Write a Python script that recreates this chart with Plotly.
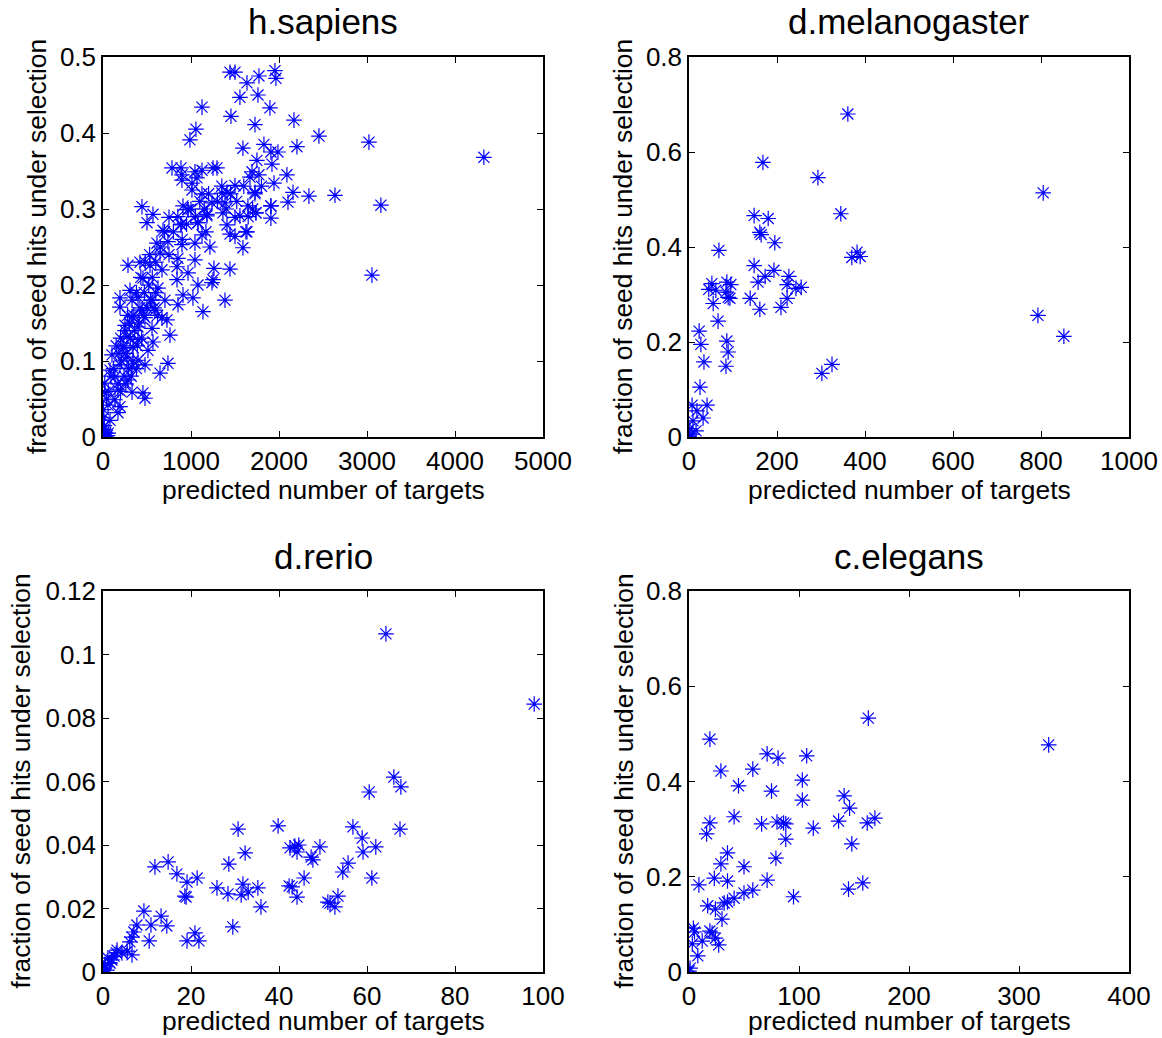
import plotly.graph_objects as go

# ---------------- data ----------------
hs_x = [1443,1500,1772,1954,1965,1636,1556,1761,1897,1125,1454,1727,2170,2454,1056,988,1590,1829,1908,1988,
        2204,1749,1920,784,886,1045,1125,1250,1295,897,1068,1693,1772,1670,2090,897,1011,1943,1011,1500,
        1727,1727,1125,1352,1409,2159,2340,2636,2102,1238,1386,443,909,1647,1908,1738,568,750,966,1181,
        1556,500,886,1079,1363,1908,682,1170,1443,1500,1624,3022,4328,3158,3056,
        966,886,1079,1181,1409,1500,1738,1908,1636,1590,613,738,897,1045,1215,1125,648,852,1045,284,
        420,534,670,841,966,1261,1443,454,841,1250,1079,307,625,1238,909,1022,193,1386,398,557,
        704,852,193,1136,443,591,330,477,670,250,398,557,727,761,273,398,568,227,341,511,
        102,273,398,193,330,477,738,648,80,136,284,20,23,170,330,454,477,136,57,193,
        5,170,80,10,
        150,200,250,300,350,420,470,520,560,600,380,330,280,230,180,120,90,60,40,210,
        260,310,360,410,460,500,540,580,620,440,390,340,290,240,170,200,260,320,380,430,
        480,530,600,650,700,750,800,850,900,950,1000,1050,1100,1150,1200,1300,1350,1400,1450,1520,
        1600,1650,1700,1800,0,10,20,30,40,50,5,15,60]
hs_y = [0.480,0.480,0.475,0.482,0.472,0.466,0.447,0.450,0.433,0.434,0.422,0.411,0.417,0.396,0.405,0.391,0.380,0.385,0.375,0.375,
        0.382,0.364,0.359,0.354,0.354,0.349,0.351,0.354,0.354,0.345,0.341,0.349,0.345,0.342,0.345,0.338,0.334,0.334,0.325,0.331,
        0.322,0.320,0.320,0.321,0.322,0.322,0.317,0.318,0.309,0.308,0.308,0.303,0.304,0.304,0.304,0.295,0.293,0.289,0.299,0.291,
        0.291,0.282,0.280,0.282,0.295,0.288,0.272,0.270,0.267,0.264,0.270,0.388,0.368,0.305,0.213,
        0.299,0.279,0.282,0.293,0.279,0.289,0.295,0.304,0.270,0.249,0.255,0.257,0.253,0.255,0.250,0.266,0.242,0.235,0.233,0.226,
        0.230,0.226,0.220,0.224,0.216,0.222,0.221,0.209,0.207,0.207,0.200,0.193,0.196,0.203,0.187,0.183,0.183,0.180,0.184,0.180,
        0.180,0.174,0.171,0.165,0.167,0.167,0.158,0.157,0.157,0.147,0.145,0.143,0.154,0.134,0.132,0.128,0.125,0.117,0.118,0.114,
        0.108,0.105,0.101,0.095,0.092,0.095,0.097,0.084,0.088,0.079,0.075,0.071,0.059,0.062,0.059,0.058,0.051,0.049,0.042,0.040,
        0.036,0.032,0.022,0.026,
        0.120,0.130,0.140,0.150,0.160,0.170,0.190,0.200,0.210,0.190,0.190,0.180,0.160,0.120,0.110,0.090,0.080,0.060,0.050,0.100,
        0.110,0.130,0.140,0.150,0.160,0.170,0.180,0.170,0.160,0.130,0.120,0.100,0.090,0.080,0.070,0.060,0.070,0.080,0.090,0.210,
        0.230,0.240,0.230,0.250,0.270,0.240,0.270,0.290,0.260,0.280,0.300,0.290,0.310,0.300,0.320,0.310,0.330,0.300,0.320,0.310,
        0.330,0.290,0.300,0.330,0.000,0.003,0.000,0.005,0.000,0.002,0.010,0.015,0.005]

dm_x = [361,168,293,345,148,180,161,164,195,68,382,370,389,148,193,173,227,157,52,86,
        95,223,45,61,243,255,84,89,93,139,223,55,161,209,66,23,27,86,89,34,
        84,325,302,25,7,41,18,32,9,2,16,7,0,805,793,852]
dm_y = [0.680,0.578,0.546,0.470,0.466,0.460,0.431,0.426,0.409,0.393,0.389,0.378,0.380,0.361,0.351,0.338,0.338,0.326,0.323,0.326,
        0.321,0.321,0.311,0.309,0.313,0.315,0.305,0.294,0.292,0.292,0.292,0.281,0.269,0.273,0.244,0.223,0.195,0.202,0.179,0.158,
        0.149,0.153,0.134,0.105,0.067,0.067,0.055,0.040,0.034,0.017,0.013,0.006,0.002,0.514,0.256,0.212]

dr_x = [30.7,39.8,32.3,14.8,11.8,28.6,16.8,21.4,19.1,31.8,25.9,35.2,28.4,31.4,33.0,18.6,18.9,35.9,9.3,13.2,
        7.7,10.9,14.5,29.5,7.0,20.9,6.6,10.5,19.1,21.8,6.1,5.5,6.6,3.0,1.1,1.6,0.2,0.9,0.0,3.2,
        4.3,2.0,43.0,42.5,43.6,44.5,44.1,47.3,47.7,49.3,45.7,44.1,42.3,51.1,52.7,
        64.3,98.0,66.1,67.7,60.5,67.5,56.8,58.9,62.0,59.1,55.7,54.5,61.1,53.4,51.6,
        0.5,1.5,2.5,0.3]
dr_y = [0.0450,0.0460,0.0375,0.0347,0.0331,0.0340,0.0309,0.0296,0.0283,0.0277,0.0265,0.0265,0.0246,0.0243,0.0252,0.0239,0.0236,0.0205,0.0192,0.0176,
        0.0148,0.0148,0.0145,0.0142,0.0126,0.0123,0.0110,0.0098,0.0098,0.0098,0.0095,0.0066,0.0054,0.0060,0.0044,0.0028,0.0013,0.0006,0.0000,0.0069,
        0.0060,0.0038,0.0268,0.0391,0.0397,0.0400,0.0378,0.0362,0.0353,0.0394,0.0296,0.0236,0.0271,0.0220,0.0205,
        0.1065,0.0844,0.0614,0.0583,0.0567,0.0450,0.0457,0.0422,0.0394,0.0378,0.0343,0.0315,0.0296,0.0239,0.0217,
        0.0020,0.0030,0.0050,0.0010]

ce_x = [163,19,71,81,107,29,58,45,103,75,141,103,146,41,19,66,80,88,86,113,
        136,162,169,16,88,148,35,29,79,50,23,35,71,9,158,145,58,50,41,95,
        35,32,17,24,30,4,5,19,21,12,3,24,27,8,1,0,327]
ce_y = [0.533,0.489,0.458,0.449,0.454,0.422,0.426,0.391,0.403,0.380,0.370,0.361,0.344,0.326,0.313,0.311,0.315,0.311,0.313,0.302,
        0.317,0.313,0.323,0.290,0.279,0.269,0.250,0.227,0.239,0.221,0.197,0.191,0.193,0.183,0.187,0.174,0.172,0.166,0.155,0.158,
        0.147,0.145,0.139,0.132,0.111,0.092,0.084,0.086,0.082,0.065,0.059,0.071,0.057,0.034,0.008,0.002,0.477]

titles = ["h.sapiens", "d.melanogaster", "d.rerio", "c.elegans"]
x_ranges = [[0, 5000], [0, 1000], [0, 100], [0, 400]]
y_ranges = [[0, 0.5], [0, 0.8], [0, 0.12], [0, 0.8]]
x_dticks = [1000, 200, 20, 100]
y_dticks = [0.1, 0.2, 0.02, 0.2]
xlabel = "predicted number of targets"
ylabel = "fraction of seed hits under selection"

# ---------------- layout ----------------
OX, OY = 0, 0            # body margin removed by post_script
W, H = 1162, 1038
FONT = "Liberation Sans, Arial, Helvetica, sans-serif"
cols = [(103, 543), (689, 1129)]
rows = [(57, 437), (591, 972)]
xlab_off = [53, 49]
ylab_x = [37, 623, 20, 623]
panels = [(0, 0), (0, 1), (1, 0), (1, 1)]
data = [(hs_x, hs_y), (dm_x, dm_y), (dr_x, dr_y), (ce_x, ce_y)]


def fx(px):
    return (px - OX) / W


def fy(py):
    return 1 - (py - OY) / H


fig = go.Figure()
annotations = []
for i, ((r, c), (xs, ys)) in enumerate(zip(panels, data)):
    n = "" if i == 0 else str(i + 1)
    x0, x1 = cols[c]
    y0, y1 = rows[r]
    fig.add_trace(go.Scatter(
        x=xs, y=ys, mode="markers", xaxis="x" + n, yaxis="y" + n,
        marker=dict(symbol="asterisk-open", size=13, color="blue",
                    line=dict(color="blue", width=1.2)),
        showlegend=False, hoverinfo="x+y"))
    common = dict(showline=True, linecolor="black", linewidth=1.5, mirror="allticks",
                  ticks="inside", ticklen=6, tickwidth=1, tickcolor="black",
                  showgrid=False, zeroline=False, automargin=False,
                  ticklabeloverflow="allow",
                  tickfont=dict(family=FONT, size=26, color="black"))
    fig.layout["xaxis" + n] = dict(domain=[fx(x0), fx(x1)], range=x_ranges[i],
                                   dtick=x_dticks[i], tick0=0, anchor="y" + n, **common)
    fig.layout["yaxis" + n] = dict(domain=[fy(y1), fy(y0)], range=y_ranges[i],
                                   dtick=y_dticks[i], tick0=0, anchor="x" + n, **common)
    cx = (x0 + x1) / 2
    cy = (y0 + y1) / 2
    annotations.append(dict(text=titles[i], x=fx(cx), y=fy(y0 - 35), xref="paper", yref="paper",
                            showarrow=False, xanchor="center", yanchor="middle",
                            font=dict(family=FONT, size=35, color="black")))
    annotations.append(dict(text=xlabel, x=fx(cx), y=fy(y1 + xlab_off[r]), xref="paper", yref="paper",
                            showarrow=False, xanchor="center", yanchor="middle",
                            font=dict(family=FONT, size=26.4, color="black")))
    annotations.append(dict(text=ylabel, x=fx(ylab_x[i]), y=fy(cy), xref="paper", yref="paper",
                            showarrow=False, xanchor="center", yanchor="middle", textangle=-90,
                            font=dict(family=FONT, size=26.4, color="black")))

fig.update_layout(width=W, height=H, margin=dict(l=0, r=0, t=0, b=0),
                  paper_bgcolor="white", plot_bgcolor="white",
                  annotations=annotations, font=dict(family=FONT))

fig.write_html("out.html", config={"displayModeBar": False},
               post_script="document.body.style.margin='0';")
